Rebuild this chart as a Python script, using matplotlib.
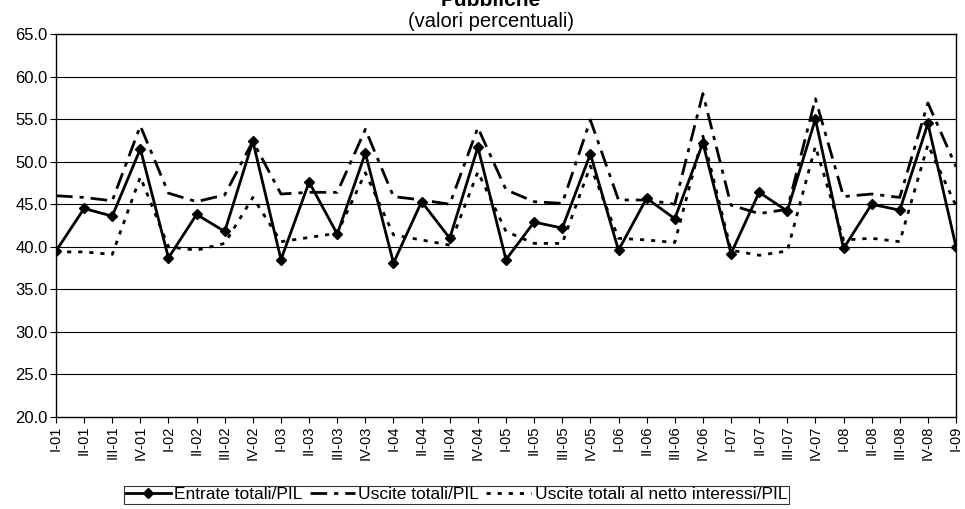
import matplotlib
matplotlib.use("Agg")
import matplotlib.pyplot as plt
import numpy as np

plt.rcParams['font.family'] = ['Liberation Sans', 'DejaVu Sans']
plt.rcParams['lines.scale_dashes'] = False

# quarters from I-01 to I-09
trimestri = ["I-01", "II-01", "III-01", "IV-01",
             "I-02", "II-02", "III-02", "IV-02",
             "I-03", "II-03", "III-03", "IV-03",
             "I-04", "II-04", "III-04", "IV-04",
             "I-05", "II-05", "III-05", "IV-05",
             "I-06", "II-06", "III-06", "IV-06",
             "I-07", "II-07", "III-07", "IV-07",
             "I-08", "II-08", "III-08", "IV-08",
             "I-09"]

entrate = [39.5, 44.5, 43.6, 51.5,
           38.7, 43.8, 41.8, 52.4,
           38.5, 47.6, 41.5, 51.0,
           38.1, 45.3, 41.0, 51.7,
           38.5, 42.9, 42.2, 50.9,
           39.6, 45.7, 43.3, 52.2,
           39.2, 46.4, 44.2, 55.0,
           39.8, 45.0, 44.3, 54.5,
           40.0]

uscite = [46.0, 45.8, 45.4, 54.2,
          46.3, 45.3, 46.1, 52.4,
          46.2, 46.4, 46.4, 53.8,
          45.9, 45.5, 45.0, 54.0,
          46.7, 45.3, 45.1, 54.9,
          45.5, 45.5, 45.0, 58.0,
          44.9, 43.9, 44.4, 57.4,
          45.9, 46.2, 45.8, 56.9,
          49.4]

netto = [39.4, 39.4, 39.1, 48.2,
         40.0, 39.6, 40.4, 45.8,
         40.6, 41.1, 41.6, 48.7,
         41.4, 40.8, 40.2, 48.8,
         41.8, 40.4, 40.4, 49.5,
         41.0, 40.8, 40.5, 53.0,
         39.6, 39.0, 39.5, 51.8,
         40.8, 41.0, 40.6, 52.0,
         44.8]

x = np.arange(len(trimestri))

fig = plt.figure(figsize=(9.65, 5.09), dpi=100)
ax = fig.add_axes([0.058, 0.1807, 0.9327, 0.7525])

for yv in np.arange(25, 65, 5):
    ax.axhline(yv, color="black", linewidth=0.8, zorder=0)

ax.plot(x, entrate, color="black", linewidth=2, marker="D", markersize=5.5,
        label="Entrate totali/PIL", zorder=4)
ax.plot(x, uscite, color="black", linewidth=2, dashes=(12, 5, 3, 5),
        label="Uscite totali/PIL", zorder=3)
ax.plot(x, netto, color="black", linewidth=2, dashes=(3, 5),
        label="Uscite totali al netto interessi/PIL", zorder=3)

ax.set_xlim(0, len(trimestri) - 1)
ax.set_ylim(20, 65)
ax.set_yticks(np.arange(20, 66, 5))
ax.set_yticklabels(["%.1f" % v for v in np.arange(20, 66, 5)], fontsize=12)
ax.set_xticks(x)
ax.set_xticklabels(trimestri, rotation=90, fontsize=10.5)
ax.tick_params(direction="out", length=4, width=0.8, colors="black", pad=2)
for s in ax.spines.values():
    s.set_linewidth(1)
    s.set_color("black")

fig.text(0.509, 1.0, "Pubbliche", ha="center", va="center",
         fontsize=15, fontweight="bold")
fig.text(0.509, 0.958, "(valori percentuali)", ha="center", va="center",
         fontsize=14.5)

leg = fig.legend(loc="upper center", bbox_to_anchor=(0.473, 0.046),
                 ncol=3, fontsize=12.5, frameon=True, fancybox=False,
                 edgecolor="black", handlelength=2.6, handletextpad=0.2,
                 columnspacing=0.4, borderpad=0.1, borderaxespad=0)
leg.get_frame().set_linewidth(0.8)

fig.savefig("out.png", dpi=100)
